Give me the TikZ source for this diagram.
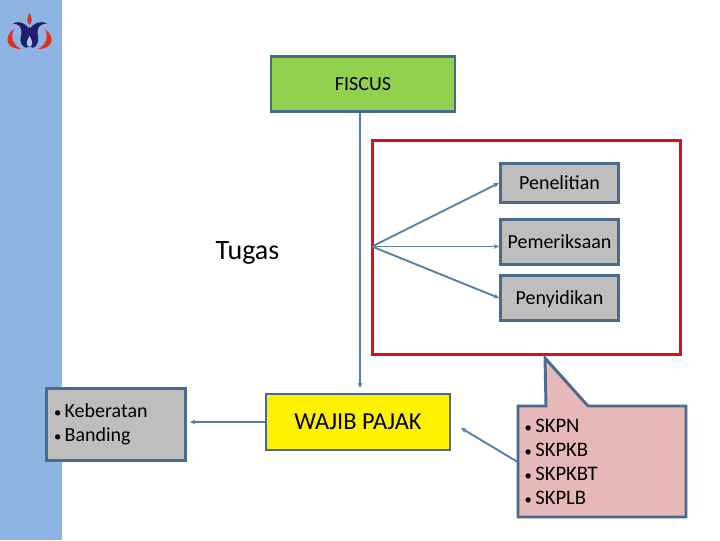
\documentclass[tikz,border=0pt]{standalone}
\usepackage{fontspec}
\setmainfont{Carlito}
\usetikzlibrary{arrows.meta}
\definecolor{bandblue}{HTML}{8DB4E2}
\definecolor{edgeblue}{HTML}{4A6A8E}
\definecolor{linkblue}{HTML}{5580A8}
\definecolor{fiscusgreen}{HTML}{92D050}
\definecolor{boxgray}{HTML}{BEBEBE}
\definecolor{skpink}{HTML}{E6B8B7}
\definecolor{framered}{HTML}{DC1016}
\definecolor{logonavy}{HTML}{1F1F70}
\definecolor{logored}{HTML}{E0301E}
\newcommand{\listdot}{{\fontsize{11}{11}\selectfont •}\hspace{2.5pt}}
\tikzset{
    box/.style={draw=edgeblue, line width=2.2pt, inner sep=0pt, align=center},
    graybox/.style={box, fill=boxgray, minimum width=88.5pt, text height=11pt, text depth=2pt, font=\fontsize{15}{18}\selectfont},
    link/.style={draw=linkblue, line width=1.4pt, -{Stealth[length=4pt,width=3.5pt]}}
}

\begin{document}
\begin{tikzpicture}[x=0.75pt,y=-0.75pt]
    \useasboundingbox (0,0) rectangle (720,540);
    \fill[white] (0,0) rectangle (720,540);
    \fill[bandblue] (0,0) rectangle (62,540);

    % Logo
    \fill[logored] (14,29) .. controls (3,37) and (6,49) .. (21,49) .. controls (13,45) and (10,37) .. cycle;
    \fill[logored] (45,29) .. controls (56,37) and (53,49) .. (38,49) .. controls (46,45) and (49,37) .. cycle;
    \fill[logored] (29.5,13) .. controls (27,18) and (26,21) .. (29.5,25) .. controls (33,21) and (32,18) .. cycle;
    \fill[logonavy] (13,23.5) .. controls (20,20) and (26,24) .. (29.5,29) .. controls (33,24) and (39,20) .. (47,23.5)
        .. controls (40,24) and (36,27) .. (38,36) .. controls (39,42) and (37,47) .. (32,48)
        .. controls (36,42) and (33,36) .. (29.5,32) .. controls (26,36) and (23,42) .. (27,48)
        .. controls (22,47) and (19,42) .. (21,36) .. controls (23,27) and (19,24) .. cycle;
    \fill[logonavy] (21,36) -- (29.5,27) -- (38,36) -- (35,47) -- (24,47) -- cycle;
    \fill[bandblue!70!white] (29.5,36) .. controls (26,41) and (26,46) .. (29.5,47) .. controls (33,46) and (33,41) .. cycle;

    % Red frame
    \node[draw=framered, line width=2.4pt, minimum width=231pt, minimum height=160.5pt, inner sep=0pt] (frame) at (526.5,247.5) {};

    % Boxes
    \node[box, fill=fiscusgreen, minimum width=138pt, minimum height=41pt, text height=11pt, text depth=2pt, font=\fontsize{15}{18}\selectfont] (fiscus) at (363,84) {FISCUS};
    \node[graybox, minimum height=29pt] (penelitian) at (559.5,183) {Penelitian};
    \node[graybox, minimum height=34pt] (pemeriksaan) at (559.5,242) {Pemeriksaan};
    \node[graybox, minimum height=34pt] (penyidikan) at (559.5,298) {Penyidikan};
    \node[font=\fontsize{21}{25}\selectfont] (tugas) at (247.5,253) {Tugas};
    \node[box, fill=boxgray, minimum width=104pt, minimum height=54pt, text width=93pt, align=left, font=\fontsize{15}{18}\selectfont] (banding) at (116,424.5) {\listdot Keberatan\\\listdot Banding};
    \node[box, fill=yellow, minimum width=138pt, minimum height=42pt, font=\fontsize{18.3}{22}\selectfont] (wajib) at (358,422) {WAJIB PAJAK};

    % Callout
    \draw[edgeblue, line width=2.2pt, fill=skpink, line join=miter]
        (518,406) -- (546,406) -- (545,358) -- (588,406) -- (686,406) -- (686,517) -- (518,517) -- cycle;
    \node[minimum width=126pt, minimum height=83pt, text width=116pt, inner sep=0pt, align=left, font=\fontsize{15.5}{18}\selectfont] (skp) at (602,462) {\listdot SKPN\\\listdot SKPKB\\\listdot SKPKBT\\\listdot SKPLB};

    % Connectors
    \coordinate (fiscusout) at (360,113);
    \coordinate (wajibin) at (360,388);
    \coordinate (hub) at (372,246.5);
    \coordinate (bandingin) at (190,422);
    \coordinate (wajibout) at (461,428);
    \draw[link] (fiscusout) -- (wajibin);
    \draw[link] (hub) -- (penelitian.west);
    \draw[link] (hub) -- (pemeriksaan.west |- hub);
    \draw[link] (hub) -- (penyidikan.west);
    \draw[link] (wajib.west) -- (bandingin);
    \draw[link] (skp.west) -- (wajibout);
\end{tikzpicture}
\end{document}
